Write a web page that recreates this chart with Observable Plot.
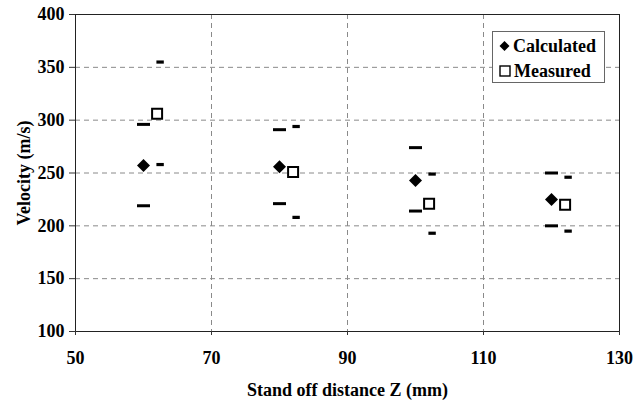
<!DOCTYPE html>
<html>
<head>
<meta charset="utf-8">
<script src="https://cdn.jsdelivr.net/npm/d3@7"></script>
<script src="https://cdn.jsdelivr.net/npm/@observablehq/plot@0.6"></script>
<style>
  html, body { margin: 0; padding: 0; background: #fff; }
  #wrap { position: relative; width: 635px; height: 401px; }
  #wrap svg text { font-family: "Liberation Serif", "Times New Roman", serif; font-weight: bold; }
  #legend {
    position: absolute; left: 492px; top: 31px; width: 113px; height: 52px;
    border: 1px solid #666; background: #fff; box-sizing: border-box;
    font-family: "Liberation Serif", "Times New Roman", serif; font-weight: bold; font-size: 18px; color: #000;
  }
  #legend .row { position: absolute; left: 6px; display: flex; align-items: center; white-space: nowrap; line-height: 20px; }
  #legend svg { margin-right: 3px; }
</style>
</head>
<body>
<div id="wrap"></div>
<script>
// ---- data ----
const xTicks = [50, 70, 90, 110, 130];
const yTicks = [100, 150, 200, 250, 300, 350, 400];
const gridXValues = [70, 90, 110];
const gridYValues = [150, 200, 250, 300, 350];

const calcZ = [60, 80, 100, 120];
const calculated = [257, 256, 243, 225];
const calcUpper = [296, 291, 274, 250];
const calcLower = [219, 221, 214, 200];

const measZ = [62, 82, 102, 122];
const measured = [306, 251, 221, 220];
const measUpper = [355, 294, 249, 246];
const measLower = [258, 208, 193, 195];

const seriesNames = ["Calculated", "Measured"];

// ---- tables ----
const calcPts = calcZ.map((z, i) => ({z, v: calculated[i]}));
const calcDashes = calcZ.flatMap((z, i) => [{z, v: calcUpper[i]}, {z, v: calcLower[i]}]);
const measPts = measZ.map((z, i) => ({z, v: measured[i]}));
const measDashes = measZ.flatMap((z, i) => [{z, v: measUpper[i]}, {z, v: measLower[i]}]);

// ---- symbols ----
const diamond = {draw(c) { c.moveTo(0, -6.5); c.lineTo(6.5, 0); c.lineTo(0, 6.5); c.lineTo(-6.5, 0); c.closePath(); }};
const square = {draw(c) { c.rect(-5, -5, 10, 10); }};
const wideDash = {draw(c) { c.rect(-6.5, -1.5, 13, 3); }};
const narrowDash = {draw(c) { c.rect(-3.7, -1.6, 7.4, 3.2); }};

const gridStyle = {stroke: "#8a8a8a", strokeOpacity: 1, strokeWidth: 1, strokeDasharray: "5,4"};
const fontOpts = {fontFamily: "Liberation Serif", fontWeight: "bold", fontSize: 18, fill: "#000"};

const chart = Plot.plot({
  width: 635,
  height: 401,
  marginLeft: 75,
  marginRight: 16,
  marginTop: 14,
  marginBottom: 70,
  style: {fontFamily: "Liberation Serif", fontWeight: "bold", fontSize: "18px", color: "#000", background: "#fff"},
  x: {domain: [50, 130]},
  y: {domain: [100, 400]},
  marks: [
    Plot.gridX(gridXValues, gridStyle),
    Plot.gridY(gridYValues, gridStyle),
    Plot.frame({stroke: "#222", strokeWidth: 1}),
    Plot.axisX({ticks: xTicks, tickSize: 4, tickPadding: 16, label: "Stand off distance Z (mm)", labelAnchor: "center", labelArrow: "none", labelOffset: 64, stroke: "#333", ...fontOpts}),
    Plot.axisY({ticks: yTicks, tickSize: 6, tickPadding: 5, label: "Velocity (m/s)", labelAnchor: "center", labelArrow: "none", labelOffset: 58, stroke: "#333", ...fontOpts}),
    Plot.dot(calcDashes, {x: "z", y: "v", symbol: wideDash, fill: "#000", stroke: "none"}),
    Plot.dot(measDashes, {x: "z", y: "v", symbol: narrowDash, fill: "#000", stroke: "none", dx: 3}),
    Plot.dot(calcPts, {x: "z", y: "v", symbol: diamond, fill: "#000", stroke: "none"}),
    Plot.dot(measPts, {x: "z", y: "v", symbol: square, fill: "#fff", stroke: "#000", strokeWidth: 2})
  ]
});
document.getElementById("wrap").appendChild(chart);

// legend
const legend = document.createElement("div");
legend.id = "legend";
legend.innerHTML =
  `<div class="row" style="top:4px"><svg width="11" height="12" viewBox="-5.5 -6 11 12"><path d="M0,-5L5,0L0,5L-5,0Z" fill="#000"/></svg><span>${seriesNames[0]}</span></div>` +
  `<div class="row" style="top:29px"><svg width="12" height="12" viewBox="-6 -6 12 12"><rect x="-5" y="-5" width="10" height="10" fill="#fff" stroke="#000" stroke-width="1.4"/></svg><span>${seriesNames[1]}</span></div>`;
document.getElementById("wrap").appendChild(legend);
</script>
</body>
</html>
